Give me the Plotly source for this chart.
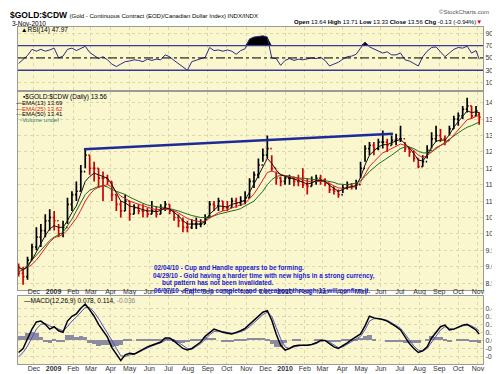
import plotly.graph_objects as go
import pandas as pd

# ---------------- data (weekly samples) ----------------
week_dates = list(pd.date_range("2008-11-07", periods=104, freq="7D").strftime("%Y-%m-%d")) + ["2010-11-03"]

price_open = [9.0, 8.8, 8.7, 9.2, 9.6, 9.9, 10.1, 10.4, 10.5, 10.4, 10.0, 10.2, 10.9, 11.2, 11.3, 11.9,
              12.4, 12.0, 12.0, 11.7, 11.7, 11.6, 11.2, 10.9, 10.7, 11.0, 10.6, 10.8, 10.7, 10.7, 10.6, 10.7,
              10.6, 10.8, 10.9, 10.7, 10.5, 10.4, 10.2, 10.2, 10.3, 10.3, 10.3, 10.5, 10.9, 10.85, 11.0, 10.8,
              10.8, 11.0, 10.95, 11.0, 11.1, 11.6, 11.8, 12.1, 12.4, 12.6, 12.0, 11.7, 11.6, 11.7, 11.7, 11.6,
              11.6, 11.5, 11.45, 11.6, 11.7, 11.65, 11.55, 11.35, 11.3, 11.2, 11.4, 11.5, 11.45, 11.5, 12.0, 12.6,
              12.7, 12.6, 12.8, 12.8, 12.7, 12.85, 12.9, 12.9, 12.6, 12.5, 12.3, 12.05, 12.2, 12.55, 12.9, 13.0,
              12.9, 12.85, 13.2, 13.5, 13.6, 13.8, 13.9, 13.6, 13.64]
price_high = [9.1, 9.0, 9.3, 9.7, 10.2, 10.3, 10.6, 10.75, 10.7, 10.3, 10.4, 11.1, 11.3, 11.6, 12.1, 12.6,
              12.4, 12.2, 12.0, 11.9, 11.8, 11.6, 11.2, 11.0, 11.2, 11.0, 10.9, 10.9, 10.9, 10.8, 11.0, 10.85,
              10.9, 11.0, 10.9, 10.7, 10.6, 10.5, 10.4, 10.45, 10.5, 10.45, 10.6, 11.0, 11.0, 11.1, 11.0, 11.0,
              11.1, 11.1, 11.15, 11.3, 11.7, 11.9, 12.3, 12.6, 13.0, 12.4, 11.9, 11.75, 11.75, 11.8, 11.75, 11.8,
              12.0, 11.7, 11.75, 11.8, 11.8, 11.7, 11.55, 11.45, 11.35, 11.5, 11.6, 11.55, 11.65, 12.2, 12.7, 12.8,
              12.8, 12.9, 13.15, 12.9, 13.0, 13.05, 13.3, 12.8, 12.65, 12.55, 12.3, 12.4, 12.7, 13.1, 13.3, 13.2,
              13.0, 13.3, 13.6, 13.7, 13.9, 14.15, 13.9, 13.9, 13.71]
price_low = [8.7, 8.45, 8.6, 9.2, 9.5, 9.6, 9.9, 10.1, 10.1, 9.9, 9.9, 10.3, 10.7, 11.0, 11.3, 12.0,
             11.8, 11.6, 11.4, 11.0, 11.5, 11.0, 10.7, 10.5, 10.7, 10.4, 10.6, 10.6, 10.5, 10.5, 10.6, 10.5,
             10.6, 10.7, 10.6, 10.4, 10.2, 10.05, 10.05, 10.15, 10.15, 10.2, 10.3, 10.5, 10.7, 10.7, 10.7, 10.7,
             10.8, 10.8, 10.85, 10.9, 11.1, 11.4, 11.7, 12.2, 12.3, 11.9, 11.5, 11.45, 11.5, 11.5, 11.45, 11.45,
             11.4, 11.2, 11.45, 11.5, 11.5, 11.45, 11.25, 11.2, 11.1, 11.25, 11.35, 11.35, 11.35, 11.7, 12.2, 12.4,
             12.4, 12.55, 12.6, 12.5, 12.7, 12.7, 12.8, 12.5, 12.35, 12.2, 12.0, 12.05, 12.3, 12.6, 12.8, 12.8,
             12.7, 13.0, 13.2, 13.3, 13.5, 13.7, 13.5, 13.6, 13.33]
price_close = [8.8, 8.7, 9.2, 9.6, 9.9, 10.1, 10.4, 10.5, 10.4, 10.0, 10.2, 10.9, 11.2, 11.3, 11.9, 12.4,
               12.0, 12.0, 11.7, 11.7, 11.6, 11.2, 10.9, 10.7, 11.0, 10.6, 10.8, 10.7, 10.7, 10.6, 10.7, 10.6,
               10.8, 10.9, 10.7, 10.5, 10.4, 10.2, 10.2, 10.3, 10.3, 10.3, 10.5, 10.9, 10.85, 11.0, 10.8, 10.8,
               11.0, 10.95, 11.0, 11.1, 11.6, 11.8, 12.1, 12.4, 12.6, 12.0, 11.7, 11.6, 11.7, 11.7, 11.6, 11.6,
               11.5, 11.45, 11.6, 11.7, 11.65, 11.55, 11.35, 11.3, 11.2, 11.4, 11.5, 11.45, 11.5, 12.0, 12.6, 12.7,
               12.6, 12.8, 12.8, 12.7, 12.85, 12.9, 12.9, 12.6, 12.5, 12.3, 12.05, 12.2, 12.55, 12.9, 13.0, 12.9,
               12.85, 13.2, 13.5, 13.6, 13.8, 13.9, 13.6, 13.75, 13.56]
ema13 = [9.0, 8.9, 9.0, 9.2, 9.45, 9.7, 9.95, 10.15, 10.25, 10.2, 10.2, 10.4, 10.65, 10.85, 11.2, 11.6,
         11.75, 11.85, 11.8, 11.75, 11.7, 11.5, 11.25, 11.0, 10.95, 10.85, 10.82, 10.78, 10.74, 10.7, 10.7, 10.67,
         10.72, 10.8, 10.76, 10.65, 10.55, 10.4, 10.3, 10.3, 10.3, 10.3, 10.38, 10.6, 10.72, 10.85, 10.84, 10.82,
         10.9, 10.93, 10.97, 11.03, 11.3, 11.52, 11.78, 12.05, 12.3, 12.15, 11.95, 11.8, 11.75, 11.72, 11.67, 11.63,
         11.58, 11.52, 11.55, 11.62, 11.63, 11.6, 11.48, 11.38, 11.3, 11.35, 11.42, 11.44, 11.47, 11.72, 12.1, 12.4,
         12.52, 12.65, 12.72, 12.72, 12.78, 12.84, 12.88, 12.75, 12.62, 12.45, 12.25, 12.22, 12.4, 12.65, 12.82, 12.86,
         12.86, 13.02, 13.25, 13.42, 13.6, 13.75, 13.7, 13.72, 13.69]
ema25 = [8.95, 8.92, 8.97, 9.07, 9.2, 9.38, 9.57, 9.75, 9.88, 9.92, 9.98, 10.12, 10.3, 10.48, 10.72, 11.0,
         11.2, 11.35, 11.42, 11.47, 11.5, 11.43, 11.3, 11.15, 11.08, 11.0, 10.95, 10.9, 10.85, 10.8, 10.77, 10.74,
         10.74, 10.76, 10.75, 10.7, 10.64, 10.55, 10.47, 10.42, 10.39, 10.37, 10.39, 10.47, 10.55, 10.65, 10.7, 10.73,
         10.79, 10.83, 10.87, 10.93, 11.07, 11.22, 11.42, 11.65, 11.87, 11.92, 11.87, 11.8, 11.77, 11.75, 11.72, 11.69,
         11.65, 11.6, 11.6, 11.62, 11.62, 11.6, 11.53, 11.46, 11.4, 11.39, 11.41, 11.42, 11.44, 11.58, 11.82, 12.05,
         12.2, 12.35, 12.47, 12.53, 12.6, 12.68, 12.74, 12.7, 12.64, 12.54, 12.4, 12.33, 12.38, 12.5, 12.63, 12.7,
         12.75, 12.86, 13.02, 13.17, 13.33, 13.48, 13.52, 13.58, 13.62]
ema50 = [8.85, 8.9, 9.05, 9.2, 9.35, 9.5, 9.65, 9.8, 9.9, 9.97, 10.05, 10.25, 10.45, 10.7, 10.95, 11.2,
         11.33, 11.4, 11.45, 11.47, 11.43, 11.35, 11.3, 11.25, 11.2, 11.12, 11.05, 10.98, 10.93, 10.88, 10.85, 10.82,
         10.8, 10.78, 10.77, 10.74, 10.7, 10.65, 10.6, 10.56, 10.53, 10.5, 10.5, 10.52, 10.55, 10.6, 10.64, 10.67,
         10.7, 10.73, 10.77, 10.85, 10.92, 11.0, 11.15, 11.3, 11.5, 11.65, 11.75, 11.78, 11.78, 11.75, 11.72, 11.7,
         11.7, 11.68, 11.66, 11.65, 11.65, 11.63, 11.6, 11.57, 11.52, 11.5, 11.5, 11.52, 11.55, 11.63, 11.75, 11.9,
         12.02, 12.13, 12.22, 12.3, 12.4, 12.5, 12.6, 12.65, 12.65, 12.6, 12.52, 12.47, 12.47, 12.5, 12.6, 12.7,
         12.78, 12.88, 12.98, 13.08, 13.17, 13.25, 13.3, 13.36, 13.41]
rsi14 = [41, 48, 54, 64, 61, 64, 61, 63, 66, 50, 53, 64, 66, 62, 66, 69,
         59, 54, 49, 52, 47, 40, 36, 40, 44, 45, 47, 46, 44, 48, 46, 48,
         47, 55, 52, 46, 41, 35, 30, 44, 46, 49, 51, 67, 62, 63, 61, 63,
         61, 56, 62, 65, 81, 84, 85, 86, 84, 50, 49, 38, 46, 49, 46, 48,
         47, 48, 50, 49, 51, 46, 37, 40, 43, 48, 52, 53, 56, 66, 76, 68,
         65, 62, 58, 60, 55, 55, 58, 47, 45, 41, 37, 52, 61, 67, 68, 60,
         52, 58, 64, 67, 66, 69, 58, 62, 47.97]
macd_line = [-0.15, -0.1, 0.02, 0.14, 0.23, 0.24, 0.2, 0.14, 0.17, 0.12, 0.1, 0.24, 0.3, 0.33, 0.4, 0.45,
             0.38, 0.3, 0.2, 0.12, 0.04, -0.09, -0.17, -0.25, -0.18, -0.16, -0.17, -0.14, -0.1, -0.08, -0.06, -0.04,
             -0.02, 0.03, 0.03, -0.01, -0.06, -0.1, -0.12, -0.1, -0.06, -0.02, 0.05, 0.1, 0.14, 0.12, 0.1, 0.09,
             0.08, 0.1, 0.12, 0.15, 0.2, 0.25, 0.3, 0.35, 0.37, 0.25, 0.08, -0.06, -0.12, -0.1, -0.07, -0.06,
             -0.06, -0.06, -0.05, -0.03, 0.0, 0.0, -0.04, -0.08, -0.1, -0.07, -0.03, 0.01, 0.04, 0.08, 0.18, 0.3,
             0.28, 0.27, 0.26, 0.24, 0.21, 0.17, 0.13, 0.05, -0.04, -0.1, -0.15, -0.13, -0.08, 0.03, 0.1, 0.17,
             0.19, 0.13, 0.14, 0.17, 0.19, 0.2, 0.17, 0.13, 0.078]
macd_signal = [-0.2, -0.15, -0.07, 0.04, 0.14, 0.2, 0.21, 0.18, 0.16, 0.14, 0.12, 0.17, 0.24, 0.29, 0.35, 0.41,
               0.41, 0.35, 0.27, 0.18, 0.1, 0.0, -0.1, -0.19, -0.2, -0.18, -0.17, -0.15, -0.12, -0.09, -0.07, -0.05,
               -0.03, 0.0, 0.02, 0.01, -0.03, -0.07, -0.1, -0.11, -0.08, -0.04, 0.01, 0.07, 0.11, 0.12, 0.11, 0.1,
               0.09, 0.09, 0.11, 0.13, 0.17, 0.22, 0.27, 0.32, 0.35, 0.3, 0.16, 0.02, -0.08, -0.1, -0.08, -0.07,
               -0.06, -0.06, -0.05, -0.04, -0.01, 0.0, -0.02, -0.06, -0.09, -0.08, -0.05, -0.01, 0.02, 0.05, 0.13, 0.24,
               0.27, 0.27, 0.26, 0.25, 0.22, 0.19, 0.15, 0.08, 0.0, -0.07, -0.12, -0.13, -0.1, -0.02, 0.06, 0.13,
               0.17, 0.15, 0.14, 0.16, 0.18, 0.19, 0.18, 0.15, 0.114]
macd_hist = [0.05, 0.05, 0.09, 0.1, 0.09, 0.04, -0.01, -0.04, 0.01, -0.02, -0.02, 0.07, 0.06, 0.04, 0.05, 0.04,
             -0.03, -0.05, -0.07, -0.06, -0.06, -0.09, -0.07, -0.06, 0.02, 0.02, 0.0, 0.01, 0.02, 0.01, 0.01, 0.01,
             0.01, 0.03, 0.01, -0.02, -0.03, -0.03, -0.02, 0.01, 0.02, 0.02, 0.04, 0.03, 0.03, 0.0, -0.01, -0.01,
             -0.01, 0.01, 0.01, 0.02, 0.03, 0.03, 0.03, 0.03, 0.02, -0.05, -0.08, -0.08, -0.04, 0.0, 0.01, 0.01,
             0.0, 0.0, 0.0, 0.01, 0.01, 0.0, -0.02, -0.02, -0.01, 0.01, 0.02, 0.02, 0.02, 0.03, 0.05, 0.06,
             0.01, 0.0, 0.0, -0.01, -0.01, -0.02, -0.02, -0.03, -0.04, -0.03, -0.03, 0.0, 0.02, 0.05, 0.04, 0.04,
             0.02, -0.02, 0.0, 0.01, 0.01, 0.01, -0.01, -0.02, -0.036]

trend_dates = ["2009-02-18", "2010-06-20"]
trend_values = [12.58, 13.05]
rsi_levels = [30, 50, 70]

month_ticks = ["2008-12-01", "2009-01-01", "2009-02-01", "2009-03-01", "2009-04-01", "2009-05-01",
               "2009-06-01", "2009-07-01", "2009-08-01", "2009-09-01", "2009-10-01", "2009-11-01",
               "2009-12-01", "2010-01-01", "2010-02-01", "2010-03-01", "2010-04-01", "2010-05-01",
               "2010-06-01", "2010-07-01", "2010-08-01", "2010-09-01", "2010-10-01", "2010-11-01"]
month_labels = ["Dec", "<b>2009</b>", "Feb", "Mar", "Apr", "May", "Jun", "Jul", "Aug", "Sep", "Oct", "Nov",
                "Dec", "<b>2010</b>", "Feb", "Mar", "Apr", "May", "Jun", "Jul", "Aug", "Sep", "Oct", "Nov"]
price_ticks = [8.5, 9.0, 9.5, 10.0, 10.5, 11.0, 11.5, 12.0, 12.5, 13.0, 13.5, 14.0]
rsi_ticks = [10, 30, 50, 70, 90]
macd_ticks = [-0.2, -0.1, 0.0, 0.1, 0.2, 0.3, 0.4]

# ---------------- figure ----------------
FONT = "Liberation Sans, Arial, sans-serif"
BG = "#FAF6CE"
GRID = "#DCD7AE"
X_RANGE = ["2008-11-06", "2010-11-09"]
D = "&#36;"  # dollar sign (entity avoids TeX parsing)

fig = go.Figure()

# RSI panel (y)
over_70 = [max(v, 70) for v in rsi14]
fig.add_trace(go.Scatter(x=week_dates, y=[70] * len(week_dates), mode="lines",
                         line=dict(width=0), xaxis="x", yaxis="y", hoverinfo="skip"))
fig.add_trace(go.Scatter(x=week_dates, y=over_70, mode="lines", line=dict(width=0),
                         fill="tonexty", fillcolor="black", xaxis="x", yaxis="y", hoverinfo="skip"))
fig.add_trace(go.Scatter(x=week_dates, y=rsi14, mode="lines", line=dict(color="#2B2B8C", width=1),
                         xaxis="x", yaxis="y"))

# Price panel (y2)
fig.add_trace(go.Ohlc(x=week_dates, open=price_open, high=price_high, low=price_low, close=price_close,
                      increasing=dict(line=dict(color="black", width=1.7)),
                      decreasing=dict(line=dict(color="#CC0000", width=1.7)),
                      tickwidth=0.45, xaxis="x2", yaxis="y2"))
fig.add_trace(go.Scatter(x=week_dates, y=ema50, mode="lines", line=dict(color="#1E6E1E", width=1),
                         xaxis="x2", yaxis="y2"))
fig.add_trace(go.Scatter(x=week_dates, y=ema25, mode="lines", line=dict(color="#E02020", width=1),
                         xaxis="x2", yaxis="y2"))
fig.add_trace(go.Scatter(x=week_dates, y=ema13, mode="lines", line=dict(color="#111111", width=1),
                         xaxis="x2", yaxis="y2"))
fig.add_trace(go.Scatter(x=trend_dates, y=trend_values, mode="lines", line=dict(color="#1F2A9A", width=2.5),
                         xaxis="x2", yaxis="y2"))

# MACD panel (y3)
fig.add_trace(go.Bar(x=week_dates, y=macd_hist, marker=dict(color="#8C8CA0", line=dict(width=0)),
                     width=7 * 24 * 3600 * 1000, xaxis="x3", yaxis="y3"))
fig.add_trace(go.Scatter(x=week_dates, y=macd_signal, mode="lines", line=dict(color="#5050C8", width=1),
                         xaxis="x3", yaxis="y3"))
fig.add_trace(go.Scatter(x=week_dates, y=macd_line, mode="lines", line=dict(color="black", width=1.5),
                         xaxis="x3", yaxis="y3"))

# RSI reference lines
for lvl in rsi_levels:
    if lvl == 50:
        fig.add_shape(type="line", xref="x domain", yref="y", x0=0, x1=1, y0=lvl, y1=lvl,
                      line=dict(color="black", width=1, dash="dashdot"))
    else:
        fig.add_shape(type="line", xref="x domain", yref="y", x0=0, x1=1, y0=lvl, y1=lvl,
                      line=dict(color="#3A3A96", width=1.3))


def px_x(px):
    return (px - 9) / 468.0


def px_y(py):
    return (362 - py) / 343.0


common_x = dict(type="date", range=X_RANGE, showgrid=True, gridcolor=GRID, griddash="dot", gridwidth=1,
                tickmode="array", tickvals=month_ticks, ticktext=month_labels,
                tickfont=dict(family=FONT, size=7, color="#333333"),
                showline=True, mirror=True, linecolor="#9A9A9A", linewidth=1, ticks="",
                rangeslider=dict(visible=False), zeroline=False)
common_y = dict(side="right", showgrid=True, gridcolor=GRID, griddash="dot", gridwidth=1,
                tickfont=dict(family=FONT, size=7, color="#333333"), showline=True, mirror=True,
                linecolor="#9A9A9A", linewidth=1, ticks="", zeroline=False)

fig.update_layout(
    width=500, height=374,
    margin=dict(l=9, r=23, t=19, b=12),
    paper_bgcolor="white", plot_bgcolor=BG,
    showlegend=False, bargap=0,
    title=dict(text="<b>" + D + "GOLD:" + D + "CDW</b> <span style='font-size:6px'>(Gold - Continuous Contract (EOD)/Canadian Dollar Index) INDX/INDX</span>",
               x=2 / 500.0, xref="container", xanchor="left",
               y=1 - 7 / 374.0, yref="container", yanchor="middle",
               font=dict(family=FONT, size=8.5, color="black")),
    xaxis=dict(common_x, anchor="y", showticklabels=False),
    xaxis2=dict(common_x, anchor="y2", matches="x", showticklabels=True, ticklabelstandoff=-6),
    xaxis3=dict(common_x, anchor="y3", matches="x", showticklabels=True, ticklabelstandoff=-2),
    yaxis=dict(common_y, domain=[px_y(83), px_y(19)], range=[-2, 100.4], tickvals=rsi_ticks,
               ticktext=[str(v) for v in rsi_ticks]),
    yaxis2=dict(common_y, domain=[px_y(287), px_y(85)], range=[8.28, 14.33], tickvals=price_ticks,
                ticktext=["%.1f" % v for v in price_ticks]),
    yaxis3=dict(common_y, domain=[px_y(362), px_y(293)], range=[-0.293, 0.549], tickvals=macd_ticks,
                ticktext=["%.1f" % v for v in macd_ticks]),
)

ann = []


def add_text(cx, py, text, size=7, color="black", weight="normal"):
    # texts are centred on the centre of the matching text in the reference
    ann.append(dict(x=px_x(cx), y=px_y(py), xref="paper", yref="paper", text=text, showarrow=False,
                    xanchor="center", yanchor="middle", borderpad=0, borderwidth=0,
                    font=dict(family=FONT, size=size, color=color, weight=weight)))


add_text(20, 15, "3-Nov-2010", size=6.5)
add_text(458, 4, "©StockCharts.com", size=6, color="#555555")
add_text(381, 14, "<b>Open</b> 13.64 <b>High</b> 13.71 <b>Low</b> 13.33 <b>Close</b> 13.56 <b>Chg</b> -0.13 (-0.94%)<span style='color:#CC0000'>▼</span>",
         size=6)
add_text(36, 22, "▲RSI(14) 47.97", size=6.5)
add_text(56, 90, "▪" + D + "GOLD:" + D + "CDW (Daily) 13.56", size=6.5)
add_text(31, 96, "<span style='color:#111111'>—</span>EMA(13) 13.69", size=6)
add_text(31, 102, "<span style='color:#E02020'>—EMA(25) 13.62</span>", size=6)
add_text(31, 108, "<span style='color:#1E6E1E'>—</span>EMA(50) 13.41", size=6)
add_text(31, 114, "<span style='color:#2E7D6E'>▫Volume undef</span>", size=6)
add_text(71, 298, "—MACD(12,26,9) 0.078, 0.114, <span style='color:#888888'>-0.036</span>", size=6.5)

blue = "#1A1AD0"
add_text(221, 264, "02/04/10 - Cup and Handle appears to be forming.", size=6.4, color=blue, weight="bold")
add_text(257, 272, "04/29/10 - Gold having a harder time with new highs in a strong currency,", size=6.4, color=blue, weight="bold")
add_text(210, 280, "but pattern has not been invalidated.", size=6.4, color=blue, weight="bold")
add_text(255, 288, "06/07/10 - Pattern is complete and a breakout through 13 will confirm it.", size=6.4, color=blue, weight="bold")

fig.update_layout(annotations=ann)

fig.write_html("out.html")
